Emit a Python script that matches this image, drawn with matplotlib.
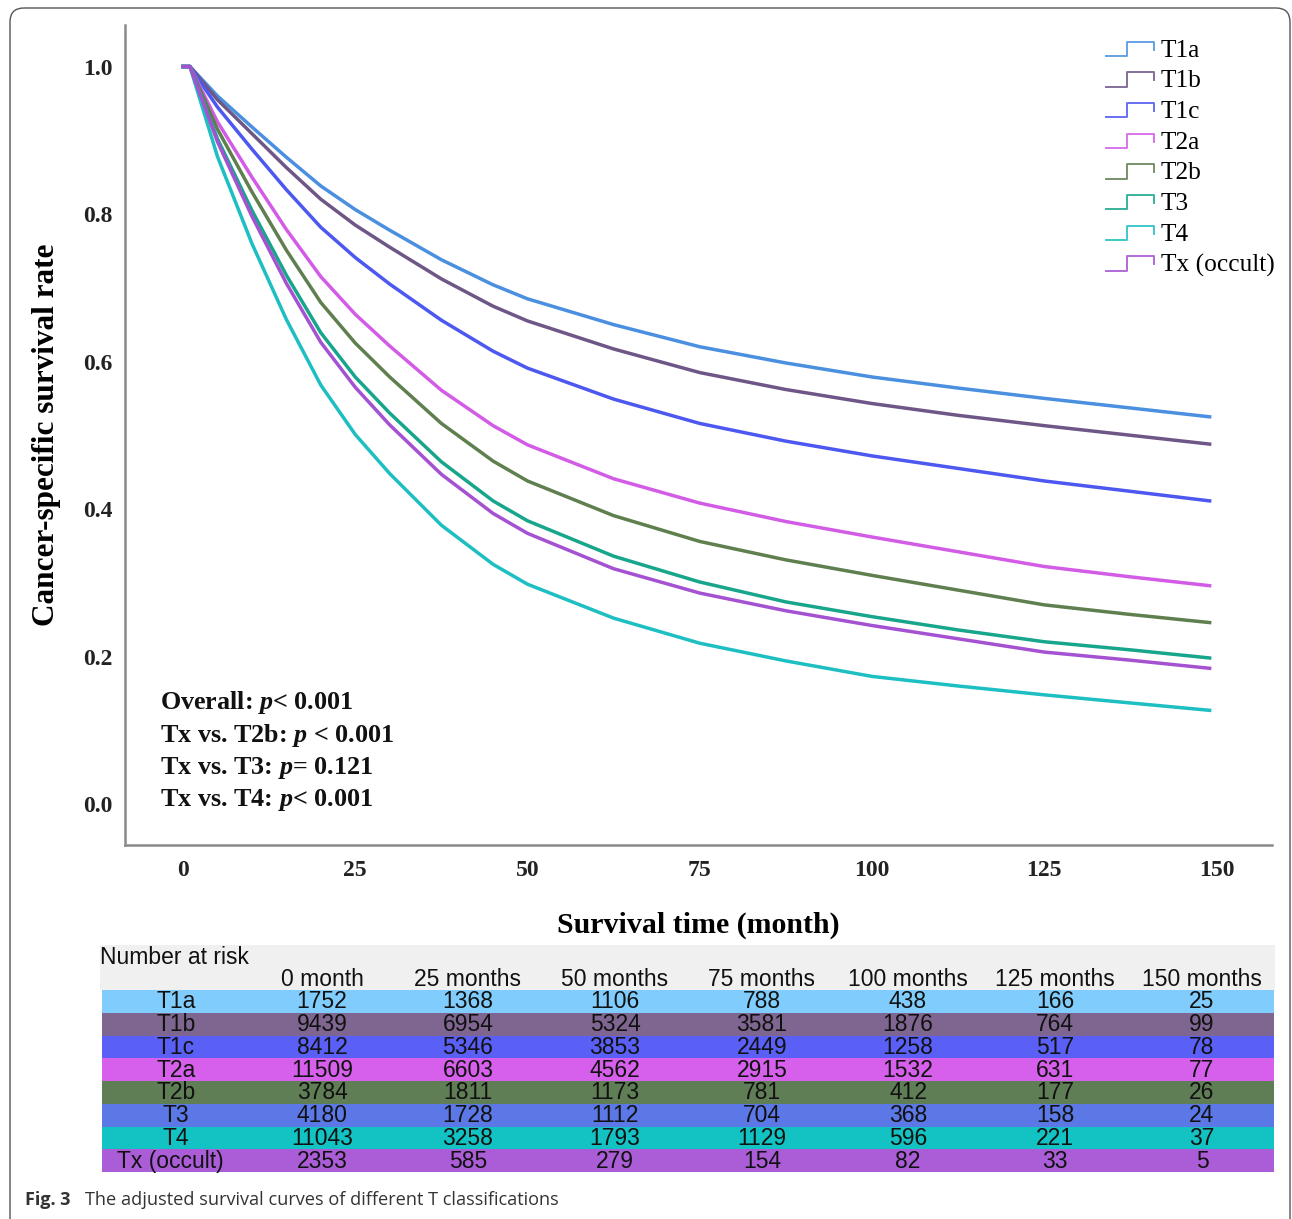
import numpy as np
import matplotlib
matplotlib.use("Agg")
import matplotlib.pyplot as plt
from matplotlib.lines import Line2D
from matplotlib.legend_handler import HandlerBase
from matplotlib.patches import FancyBboxPatch

# ---------------- data ----------------
groups = ["T1a", "T1b", "T1c", "T2a", "T2b", "T3", "T4", "Tx (occult)"]
months = [0, 1, 5, 10, 15, 20, 25, 30, 37.5, 45, 50, 62.5, 75, 87.5, 100, 112.5, 125, 137.5, 149]
surv_T1a = [1.0, 1.0, 0.960, 0.918, 0.877, 0.838, 0.806, 0.778, 0.738, 0.704, 0.685,
            0.650, 0.620, 0.598, 0.579, 0.564, 0.550, 0.537, 0.525]
surv_T1b = [1.0, 1.0, 0.955, 0.909, 0.863, 0.820, 0.785, 0.755, 0.712, 0.675, 0.655,
            0.617, 0.585, 0.562, 0.543, 0.527, 0.513, 0.500, 0.488]
surv_T1c = [1.0, 1.0, 0.945, 0.888, 0.833, 0.782, 0.741, 0.705, 0.656, 0.614, 0.591,
            0.549, 0.516, 0.492, 0.472, 0.455, 0.438, 0.424, 0.411]
surv_T2a = [1.0, 1.0, 0.925, 0.850, 0.779, 0.715, 0.664, 0.621, 0.561, 0.513, 0.487,
            0.441, 0.408, 0.383, 0.362, 0.342, 0.322, 0.308, 0.296]
surv_T2b = [1.0, 1.0, 0.915, 0.830, 0.751, 0.680, 0.625, 0.579, 0.516, 0.465, 0.438,
            0.391, 0.356, 0.331, 0.310, 0.290, 0.270, 0.257, 0.246]
surv_T3 = [1.0, 1.0, 0.902, 0.805, 0.717, 0.639, 0.579, 0.530, 0.464, 0.411, 0.384,
           0.336, 0.301, 0.274, 0.254, 0.236, 0.220, 0.209, 0.198]
surv_T4 = [1.0, 1.0, 0.878, 0.760, 0.657, 0.568, 0.501, 0.448, 0.378, 0.325, 0.298,
           0.252, 0.218, 0.194, 0.173, 0.160, 0.148, 0.137, 0.127]
surv_Tx = [1.0, 1.0, 0.898, 0.797, 0.706, 0.626, 0.565, 0.514, 0.447, 0.394, 0.367,
           0.319, 0.286, 0.262, 0.242, 0.224, 0.206, 0.195, 0.184]

x_ticks = [0, 25, 50, 75, 100, 125, 150]
y_ticks = [0.0, 0.2, 0.4, 0.6, 0.8, 1.0]

risk_headers = ["0 month", "25 months", "50 months", "75 months",
                "100 months", "125 months", "150 months"]
risk_T1a = [1752, 1368, 1106, 788, 438, 166, 25]
risk_T1b = [9439, 6954, 5324, 3581, 1876, 764, 99]
risk_T1c = [8412, 5346, 3853, 2449, 1258, 517, 78]
risk_T2a = [11509, 6603, 4562, 2915, 1532, 631, 77]
risk_T2b = [3784, 1811, 1173, 781, 412, 177, 26]
risk_T3 = [4180, 1728, 1112, 704, 368, 158, 24]
risk_T4 = [11043, 3258, 1793, 1129, 596, 221, 37]
risk_Tx = [2353, 585, 279, 154, 82, 33, 5]

pvals = ["Overall: $\\mathbfit{p}$< 0.001",
         "Tx vs. T2b: $\\mathbfit{p}$ < 0.001",
         "Tx vs. T3: $\\mathbfit{p}$= 0.121",
         "Tx vs. T4: $\\mathbfit{p}$< 0.001"]

# ---------------- styles ----------------
curves = [surv_T1a, surv_T1b, surv_T1c, surv_T2a, surv_T2b, surv_T3, surv_T4, surv_Tx]
risks = [risk_T1a, risk_T1b, risk_T1c, risk_T2a, risk_T2b, risk_T3, risk_T4, risk_Tx]
line_colors = ["#4a8fe0", "#6e5686", "#4c58f0", "#d35ce6", "#5f7f4f",
               "#17a58c", "#1dbfc2", "#a452d2"]
row_colors = ["#80cdfd", "#7e6690", "#5a5ff6", "#d660ec", "#5f7e56",
              "#5b78e6", "#13c2c2", "#aa5dd6"]

W, H = 1292, 1219
fig = plt.figure(figsize=(W / 100, H / 100), dpi=100)

serif = ["Liberation Serif", "DejaVu Serif"]
plt.rcParams["mathtext.fontset"] = "custom"
plt.rcParams["mathtext.rm"] = "Liberation Serif"
plt.rcParams["mathtext.it"] = "Liberation Serif:italic"
plt.rcParams["mathtext.bf"] = "Liberation Serif:bold"
plt.rcParams["mathtext.bfit"] = "Liberation Serif:bold:italic"

ax = fig.add_axes([125 / W, 1 - 845 / H, (1272 - 125) / W, (845 - 25) / H])
for c, name, col in zip(curves, groups, line_colors):
    ax.plot(months, c, color=col, lw=2.5, label=name, solid_joinstyle="round")

ax.set_xlim(-8.42, 158.05)
ax.set_ylim(-0.0556, 1.0563)
ax.set_xticks(x_ticks)
ax.set_yticks(y_ticks)
ax.set_yticklabels([f"{v:.1f}" for v in y_ticks])
ax.tick_params(length=0, labelsize=17, colors="#222222")
ax.tick_params(axis="y", pad=9)
ax.tick_params(axis="x", pad=11)
for lab in ax.get_xticklabels() + ax.get_yticklabels():
    lab.set_family(serif)
    lab.set_fontweight("bold")
for s in ["top", "right"]:
    ax.spines[s].set_visible(False)
for s in ["left", "bottom"]:
    ax.spines[s].set_color("#8a8a8a")
    ax.spines[s].set_linewidth(1.8)

ax.set_ylabel("Cancer-specific survival rate", family=serif, fontweight="bold",
              fontsize=22.5, labelpad=16)
ax.set_xlabel("Survival time (month)", family=serif, fontweight="bold",
              fontsize=21.5, labelpad=22)

for i, t in enumerate(pvals):
    fig.text(160 / W, 1 - (703 + 32.3 * i) / H, t, family=serif, fontweight="bold",
             fontsize=18.8, va="center", ha="left", color="#111111")


class StepHandler(HandlerBase):
    def create_artists(self, legend, orig_handle, xdescent, ydescent,
                       width, height, fontsize, trans):
        w, h = width, height
        xs = np.array([0, 0.42 * w, 0.42 * w, 0.97 * w, 0.97 * w]) - xdescent
        ys = np.array([0.05 * h, 0.05 * h, 0.85 * h, 0.85 * h, 0.4 * h]) - ydescent
        ln = Line2D(xs, ys, color=orig_handle.get_color(), lw=1.4, alpha=0.85)
        ln.set_transform(trans)
        return [ln]


handles = ax.get_lines()
leg = ax.legend(handles, groups, loc="upper left",
                bbox_to_anchor=((1106 - 125) / (1272 - 125), (845 - 39) / (845 - 25)),
                frameon=False, prop={"family": serif, "size": 18.3},
                handler_map={Line2D: StepHandler()}, handlelength=1.95,
                handletextpad=0.2, labelspacing=0.31, borderaxespad=0,
                borderpad=0)

# ---------------- risk table ----------------
tx = fig.add_axes([0, 0, 1, 1], zorder=-1)
tx.set_xlim(0, W)
tx.set_ylim(H, 0)
tx.axis("off")

fs_tab = 16.5
tx.add_patch(plt.Rectangle((100, 945), 1175, 45, color="#f0f0f0", lw=0))
tx.text(100, 957, "Number at risk", family=["Liberation Sans"], fontsize=fs_tab,
        va="center", ha="left", color="#111111")
col_x = [322, 468, 615, 762, 908, 1055, 1202]
for cx, hd in zip(col_x, risk_headers):
    tx.text(cx, 979, hd, family=["Liberation Sans"], fontsize=fs_tab, va="center",
            ha="center", color="#111111")
row_h = 22.75
for i, (name, r, rc) in enumerate(zip(groups, risks, row_colors)):
    y0 = 990 + i * row_h
    tx.add_patch(plt.Rectangle((102, y0), 1172, row_h, color=rc, lw=0))
    yc = y0 + row_h / 2 + 0.5
    tx.text(170 if i == 7 else 176, yc, name, family=["Liberation Sans"],
            fontsize=fs_tab, va="center", ha="center", color="#111111")
    for cx, v in zip(col_x, r):
        tx.text(cx, yc, str(v), family=["Liberation Sans"], fontsize=fs_tab,
                va="center", ha="center", color="#111111")

# caption and frame
tx.text(25, 1200, "Fig. 3", family=["Open Sans"], fontweight="bold", fontsize=13,
        va="center", ha="left", color="#333333")
tx.text(85, 1200, "The adjusted survival curves of different T classifications",
        family=["Open Sans"], fontsize=13.1, va="center", ha="left", color="#333333")
tx.add_patch(FancyBboxPatch((10, 8), 1280, 1260, boxstyle="round,pad=0,rounding_size=14",
                            fill=False, ec="#555555", lw=1.0))

fig.savefig("out.png", dpi=100)
